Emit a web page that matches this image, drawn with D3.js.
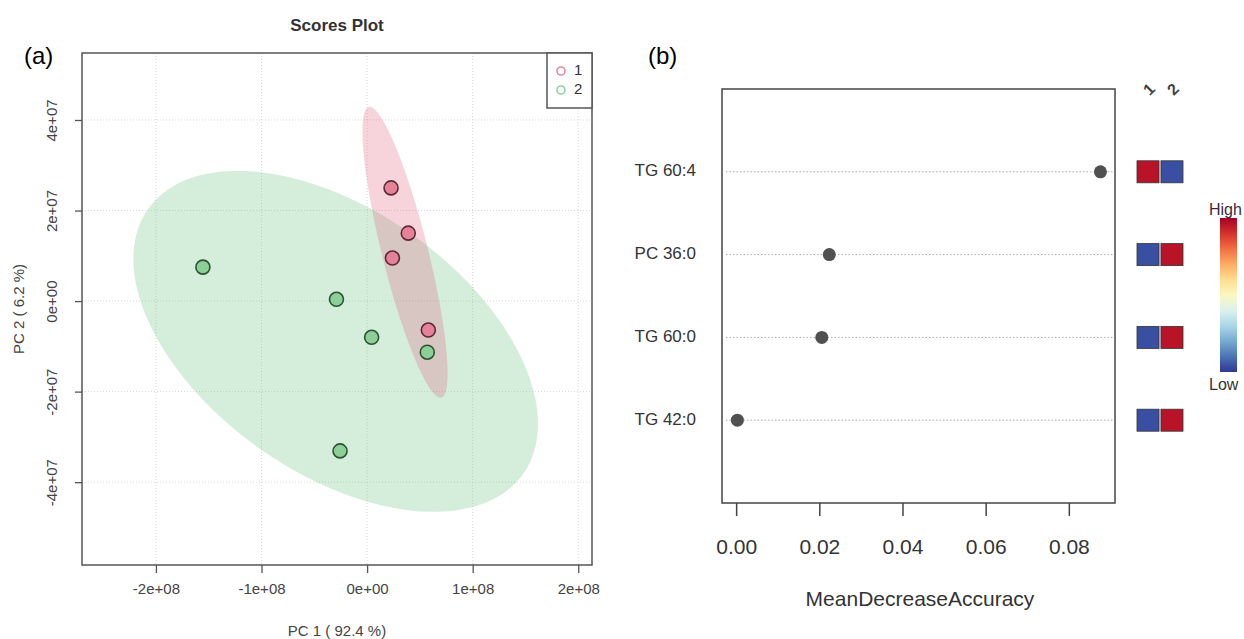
<!DOCTYPE html>
<html>
<head>
<meta charset="utf-8">
<script src="https://cdn.jsdelivr.net/npm/d3@7"></script>
<style>
body { margin: 0; background: #fff; }
text { font-family: "Liberation Sans", Arial, sans-serif; }
</style>
</head>
<body>
<svg id="chart" width="1244" height="639"></svg>
<script>
// (a) PCA scores, one pair of arrays per group
const group1PC1 = [2.27e7, 3.9e7, 2.4e7, 5.8e7];
const group1PC2 = [2.5e7, 1.5e7, 0.95e7, -0.64e7];
const group2PC1 = [-1.555e8, -2.9e7, 0.43e7, 5.7e7, -2.56e7];
const group2PC2 = [0.75e7, 0.04e7, -0.8e7, -1.13e7, -3.31e7];
const groupNames = ["1", "2"];
const pc1Ticks = [-2e8, -1e8, 0, 1e8, 2e8];
const pc1TickLabels = ["-2e+08", "-1e+08", "0e+00", "1e+08", "2e+08"];
const pc2Ticks = [4e7, 2e7, 0, -2e7, -4e7];
const pc2TickLabels = ["4e+07", "2e+07", "0e+00", "-2e+07", "-4e+07"];

// (b) random forest importance
const features = ["TG 60:4", "PC 36:0", "TG 60:0", "TG 42:0"];
const meanDecreaseAccuracy = [0.0876, 0.0224, 0.0206, 0.0003];
const accTicks = [0, 0.02, 0.04, 0.06, 0.08];
const accTickLabels = ["0.00", "0.02", "0.04", "0.06", "0.08"];
const heatGroups = ["1", "2"];
const heatGroup1 = [1, 0, 0, 0];   // 1 = high, 0 = low
const heatGroup2 = [0, 1, 1, 1];

const svg = d3.select("#chart");
svg.append("rect").attr("width", 1244).attr("height", 639).attr("fill", "#fff");

// ---------- panel (a) ----------
const xA = d3.scaleLinear().domain([-2.70e8, 2.13e8]).range([82, 592]);
const yA = d3.scaleLinear().domain([-5.83e7, 5.48e7]).range([565, 53]);

// 95% ellipse like ellipse::ellipse(cov, centre, level)
function ellipsePts(xs, ys, level, n) {
    const mx = d3.mean(xs), my = d3.mean(ys);
    const sx = d3.deviation(xs), sy = d3.deviation(ys);
    let cxy = 0;
    xs.forEach((x, i) => { cxy += (x - mx) * (ys[i] - my); });
    cxy /= (xs.length - 1);
    const r = cxy / (sx * sy);
    const t = Math.sqrt(-2 * Math.log(1 - level));
    const d = Math.acos(r);
    return d3.range(n).map(i => {
        const a = -Math.PI + 2 * Math.PI * i / n;
        return [mx + t * sx * Math.cos(a + d / 2), my + t * sy * Math.cos(a - d / 2)];
    });
}

const gA = svg.append("g");

// grid
gA.selectAll(".vg").data(pc1Ticks).enter().append("line")
    .attr("x1", d => xA(d)).attr("x2", d => xA(d))
    .attr("y1", 53).attr("y2", 565)
    .attr("stroke", "#d8d8d8").attr("stroke-dasharray", "1,2");
gA.selectAll(".hg").data(pc2Ticks).enter().append("line")
    .attr("y1", d => yA(d)).attr("y2", d => yA(d))
    .attr("x1", 82).attr("x2", 592)
    .attr("stroke", "#d8d8d8").attr("stroke-dasharray", "1,2");

const line = d3.line().x(d => xA(d[0])).y(d => yA(d[1])).curve(d3.curveLinearClosed);
gA.append("path").attr("d", line(ellipsePts(group2PC1, group2PC2, 0.95, 100)))
    .attr("fill", "#57bb6f").attr("fill-opacity", 0.25);
gA.append("path").attr("d", line(ellipsePts(group1PC1, group1PC2, 0.95, 100)))
    .attr("fill", "#df4f73").attr("fill-opacity", 0.25);

function drawPts(xs, ys, fill, stroke) {
    gA.selectAll(null).data(xs).enter().append("circle")
        .attr("cx", d => xA(d)).attr("cy", (d, i) => yA(ys[i]))
        .attr("r", 7).attr("fill", fill)
        .attr("stroke", stroke).attr("stroke-width", 1.6);
}
drawPts(group1PC1, group1PC2, "#e6819a", "#5e2a36");
drawPts(group2PC1, group2PC2, "#8ccf98", "#2c5233");

// box
gA.append("rect").attr("x", 82).attr("y", 53).attr("width", 510).attr("height", 512)
    .attr("fill", "none").attr("stroke", "#555").attr("stroke-width", 1.5);

// axes
const axXA = d3.axisBottom(xA).tickValues(pc1Ticks).tickSize(8)
    .tickFormat((d, i) => pc1TickLabels[i]);
const gx = gA.append("g").attr("transform", "translate(0,565)").call(axXA);
gx.select(".domain").remove();
gx.selectAll("line").attr("stroke", "#555").attr("stroke-width", 1.3);
gx.selectAll("text").attr("y", 24).attr("dy", "0.35em")
    .attr("font-size", 15).attr("fill", "#444");

const axYA = d3.axisLeft(yA).tickValues(pc2Ticks).tickSize(7)
    .tickFormat((d, i) => pc2TickLabels[i]);
const gy = gA.append("g").attr("transform", "translate(82,0)").call(axYA);
gy.select(".domain").remove();
gy.selectAll("line").attr("stroke", "#555").attr("stroke-width", 1.3);
gy.selectAll("text").attr("x", 0).attr("dy", 0)
    .attr("transform", "translate(-29,0) rotate(-90)")
    .attr("text-anchor", "middle").attr("dominant-baseline", "middle")
    .attr("font-size", 15).attr("fill", "#444");

gA.append("text").attr("x", 337).attr("y", 27).attr("text-anchor", "middle")
    .attr("dominant-baseline", "middle").attr("font-size", 17).attr("font-weight", "bold")
    .attr("fill", "#333").text("Scores Plot");
gA.append("text").attr("x", 337).attr("y", 632).attr("text-anchor", "middle")
    .attr("dominant-baseline", "middle").attr("font-size", 15).attr("fill", "#444")
    .text("PC 1 ( 92.4 %)");
gA.append("text").attr("transform", "translate(20,309) rotate(-90)")
    .attr("text-anchor", "middle").attr("dominant-baseline", "middle")
    .attr("font-size", 15).attr("fill", "#444").text("PC 2 ( 6.2 %)");

// legend
const legCol = ["#e58a9f", "#8fd3a0"];
gA.append("rect").attr("x", 547).attr("y", 53).attr("width", 45).attr("height", 55)
    .attr("fill", "#fff").attr("stroke", "#555").attr("stroke-width", 1.5);
groupNames.forEach((name, i) => {
    gA.append("circle").attr("cx", 561).attr("cy", 71 + i * 19).attr("r", 4)
        .attr("fill", "none").attr("stroke", legCol[i]).attr("stroke-width", 1.6);
    gA.append("text").attr("x", 574).attr("y", 71 + i * 19)
        .attr("dominant-baseline", "middle").attr("font-size", 15).attr("fill", "#333")
        .text(name);
});

svg.append("text").attr("x", 24).attr("y", 64).attr("font-family", "Lato")
    .attr("font-size", 24).attr("fill", "#000").text("(a)");
svg.append("text").attr("x", 648).attr("y", 64).attr("font-family", "Lato")
    .attr("font-size", 24).attr("fill", "#000").text("(b)");

// ---------- panel (b) ----------
const xB = d3.scaleLinear().domain([-0.0034, 0.0911]).range([722, 1115]);
const yB = d3.scalePoint().domain(features).range([89, 503]).padding(1);
const gB = svg.append("g");

gB.selectAll(".dl").data(features).enter().append("line")
    .attr("x1", 726).attr("x2", 1113)
    .attr("y1", d => yB(d)).attr("y2", d => yB(d))
    .attr("stroke", "#aaa").attr("stroke-width", 1).attr("stroke-dasharray", "1.5,2");

gB.selectAll(".pt").data(features).enter().append("circle")
    .attr("cx", (d, i) => xB(meanDecreaseAccuracy[i])).attr("cy", d => yB(d))
    .attr("r", 6.5).attr("fill", "#505050");

gB.append("rect").attr("x", 722).attr("y", 89).attr("width", 393).attr("height", 414)
    .attr("fill", "none").attr("stroke", "#444").attr("stroke-width", 1.5);

const axXB = d3.axisBottom(xB).tickValues(accTicks).tickSize(13)
    .tickFormat((d, i) => accTickLabels[i]);
const gxb = gB.append("g").attr("transform", "translate(0,503)").call(axXB);
gxb.select(".domain").remove();
gxb.selectAll("line").attr("stroke", "#444").attr("stroke-width", 1.5);
gxb.selectAll("text").attr("y", 44).attr("dy", "0.35em")
    .attr("font-size", 21).attr("fill", "#333");

gB.selectAll(".lab").data(features).enter().append("text")
    .attr("x", 696).attr("y", d => yB(d)).attr("text-anchor", "end")
    .attr("dominant-baseline", "middle").attr("font-size", 17).attr("fill", "#333")
    .text(d => d);

gB.append("text").attr("x", 920).attr("y", 600).attr("text-anchor", "middle")
    .attr("dominant-baseline", "middle").attr("font-size", 21).attr("fill", "#333")
    .text("MeanDecreaseAccuracy");

// heat squares
const color = v => d3.interpolateRdYlBu(1 - (0.04 + 0.92 * v));
const xH = d3.scaleBand().domain(heatGroups).range([1137, 1183]).paddingInner(0.08);
const heatVals = [heatGroup1, heatGroup2];
heatGroups.forEach((g, j) => {
    gB.selectAll(null).data(features).enter().append("rect")
        .attr("x", xH(g)).attr("y", d => yB(d) - 11)
        .attr("width", xH.bandwidth()).attr("height", 22)
        .attr("fill", (d, i) => color(heatVals[j][i]))
        .attr("stroke", "#333").attr("stroke-width", 0.8);
    gB.append("text")
        .attr("transform", `translate(${xH(g) + xH.bandwidth() / 2 + 2},${90}) rotate(-45)`)
        .attr("text-anchor", "middle").attr("dominant-baseline", "middle")
        .attr("font-size", 16).attr("font-weight", "bold").attr("fill", "#444").text(g);
});

// colour bar
const defs = svg.append("defs");
const grad = defs.append("linearGradient").attr("id", "cbar")
    .attr("x1", 0).attr("x2", 0).attr("y1", 0).attr("y2", 1);
d3.range(0, 1.0001, 0.1).forEach(t => {
    grad.append("stop").attr("offset", t).attr("stop-color", d3.interpolateRdYlBu(t));
});
gB.append("rect").attr("x", 1220).attr("y", 218).attr("width", 17).attr("height", 154)
    .attr("fill", "url(#cbar)");
gB.append("text").attr("x", 1209).attr("y", 215).attr("font-size", 16)
    .attr("fill", "#3a2a3a").text("High");
gB.append("text").attr("x", 1209).attr("y", 390).attr("font-size", 16)
    .attr("fill", "#333").text("Low");
</script>
</body>
</html>
